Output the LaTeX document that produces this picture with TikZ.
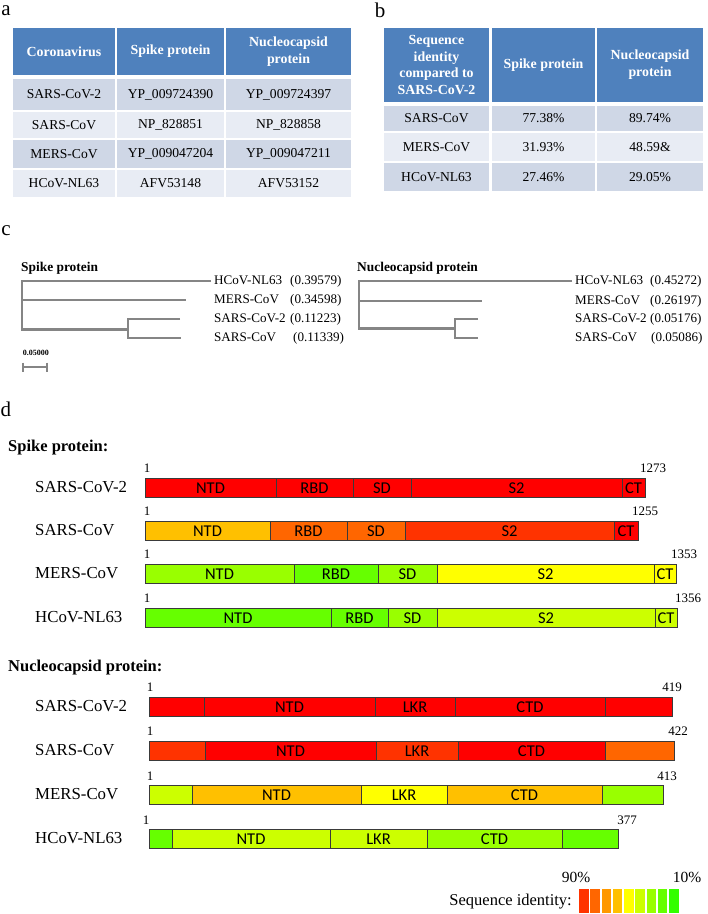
\documentclass[tikz,border=0pt]{standalone}
\usepackage{fontspec}
\setmainfont{Liberation Serif}
\newfontfamily\segfont{Carlito}
\definecolor{hdr}{HTML}{4F81BD}
\definecolor{rowA}{HTML}{CFD7E6}
\definecolor{rowB}{HTML}{E8ECF4}
\definecolor{treegray}{HTML}{858585}
\definecolor{barline}{HTML}{3A3A3A}
\definecolor{cR}{HTML}{FF0000}
\definecolor{cRO}{HTML}{FF3300}
\definecolor{cO}{HTML}{FF6600}
\definecolor{cOY}{HTML}{FF9900}
\definecolor{cAm}{HTML}{FFC000}
\definecolor{cY}{HTML}{FFFF00}
\definecolor{cYG}{HTML}{CCFF00}
\definecolor{cLG}{HTML}{99FF00}
\definecolor{cG}{HTML}{66FF00}
\definecolor{cGG}{HTML}{33FF00}
\tikzset{
  hdrtext/.style={font=\fontsize{13.9}{16.7}\selectfont\bfseries, text=white, align=center, inner sep=0pt},
  celltext/.style={font=\fontsize{13.6}{16}\selectfont, inner sep=0pt},
  panel/.style={font=\fontsize{21}{24}\selectfont, inner sep=0pt},
  treeline/.style={draw=treegray, line width=2.6pt},
  treelab/.style={font=\fontsize{13.1}{16}\selectfont, anchor=west, inner sep=0pt},
  treetitle/.style={font=\fontsize{13.4}{16}\selectfont\bfseries, anchor=west, inner sep=0pt},
  sectitle/.style={font=\fontsize{16.5}{19}\selectfont\bfseries, anchor=west, inner sep=0pt},
  barname/.style={font=\fontsize{16.8}{19}\selectfont, anchor=west, inner sep=0pt},
  numlab/.style={font=\fontsize{13}{15}\selectfont, inner sep=0pt},
  seglab/.style={font=\segfont\fontsize{16.5}{18}\selectfont, inner sep=0pt},
  segbox/.style={draw=barline, line width=0.7pt},
}
\newcommand{\tcell}[8]{%
  \fill[#5] (#1,#2) rectangle (#3,#4);
  \node[#7] (#6) at ({(#1+#3)/2},{(#2+#4)/2}) {#8};}
\newcommand{\segm}[6]{%
  \filldraw[segbox, fill=#4] (#1,#3) rectangle (#2,{#3+19});
  \node[seglab] (#6) at ({(#1+#2)/2},{#3+9.7}) {#5};}
\begin{document}
\begin{tikzpicture}[x=1pt,y=-1pt]
\useasboundingbox (0,0) rectangle (708,914);

% ---------- panel labels
\node[panel] (pa) at (6,11) {a};
\node[panel] (pb) at (380,10) {b};
\node[panel] (pc) at (6,231) {c};
\node[panel] (pd) at (6,409) {d};

% ---------- table a
\tcell{13}{28}{115}{75}{hdr}{a11}{hdrtext}{Coronavirus}
\tcell{117}{28}{224}{75}{hdr}{a12}{hdrtext}{Spike protein}
\tcell{226}{28}{351}{75}{hdr}{a13}{hdrtext}{Nucleocapsid\\protein}
\tcell{13}{79}{115}{110}{rowA}{a21}{celltext}{SARS-CoV-2}
\tcell{117}{79}{224}{110}{rowA}{a22}{celltext}{YP\_009724390}
\tcell{226}{79}{351}{110}{rowA}{a23}{celltext}{YP\_009724397}
\tcell{13}{112}{115}{138}{rowB}{a31}{celltext}{SARS-CoV}
\tcell{117}{112}{224}{138}{rowB}{a32}{celltext}{NP\_828851}
\tcell{226}{112}{351}{138}{rowB}{a33}{celltext}{NP\_828858}
\tcell{13}{140}{115}{168}{rowA}{a41}{celltext}{MERS-CoV}
\tcell{117}{140}{224}{168}{rowA}{a42}{celltext}{YP\_009047204}
\tcell{226}{140}{351}{168}{rowA}{a43}{celltext}{YP\_009047211}
\tcell{13}{170}{115}{197}{rowB}{a51}{celltext}{HCoV-NL63}
\tcell{117}{170}{224}{197}{rowB}{a52}{celltext}{AFV53148}
\tcell{226}{170}{351}{197}{rowB}{a53}{celltext}{AFV53152}

% ---------- table b
\tcell{384}{28}{489}{102}{hdr}{b11}{hdrtext}{Sequence\\identity\\compared to\\SARS-CoV-2}
\tcell{492}{28}{595}{102}{hdr}{b12}{hdrtext}{Spike protein}
\tcell{597}{28}{703}{102}{hdr}{b13}{hdrtext}{Nucleocapsid\\protein}
\tcell{384}{106}{489}{131}{rowA}{b21}{celltext}{SARS-CoV}
\tcell{492}{106}{595}{131}{rowA}{b22}{celltext}{77.38\%}
\tcell{597}{106}{703}{131}{rowA}{b23}{celltext}{89.74\%}
\tcell{384}{133}{489}{161}{rowB}{b31}{celltext}{MERS-CoV}
\tcell{492}{133}{595}{161}{rowB}{b32}{celltext}{31.93\%}
\tcell{597}{133}{703}{161}{rowB}{b33}{celltext}{48.59\&}
\tcell{384}{163}{489}{191}{rowA}{b41}{celltext}{HCoV-NL63}
\tcell{492}{163}{595}{191}{rowA}{b42}{celltext}{27.46\%}
\tcell{597}{163}{703}{191}{rowA}{b43}{celltext}{29.05\%}

% ---------- tree c, spike
\node[treetitle] (ts) at (21,268) {Spike protein};
\draw[treeline] (211,281) -- (22,281) -- (22,329.5) -- (128,329.5);
\draw[treeline] (22,300) -- (186,300);
\draw[treeline] (180,319) -- (128,319) -- (128,338) -- (181,338);
\node[treelab] (ls1) at (214,281) {\makebox[76pt][l]{HCoV-NL63}(0.39579)};
\node[treelab] (ls2) at (214,300) {\makebox[76pt][l]{MERS-CoV}(0.34598)};
\node[treelab] (ls3) at (214,319) {\makebox[76pt][l]{SARS-CoV-2}(0.11223)};
\node[treelab] (ls4) at (214,338) {\makebox[79pt][l]{SARS-CoV}(0.11339)};
\node[font=\fontsize{8}{9}\selectfont\bfseries, inner sep=0pt] (sc) at (36,353) {0.05000};
\draw[draw=treegray, line width=1.3pt] (23,367) -- (47,367);
\draw[draw=treegray, line width=1.3pt] (23,362.5) -- (23,371.5);
\draw[draw=treegray, line width=1.3pt] (47,362.5) -- (47,371.5);

% ---------- tree c, nucleocapsid
\node[treetitle] (tn) at (357,268) {Nucleocapsid protein};
\draw[treeline] (572,281) -- (359,281) -- (359,328.5) -- (455,328.5);
\draw[treeline] (359,301) -- (482,301);
\draw[treeline] (478,319) -- (455,319) -- (455,338) -- (478,338);
\node[treelab] (ln1) at (575,281) {\makebox[75pt][l]{HCoV-NL63}(0.45272)};
\node[treelab] (ln2) at (575,301) {\makebox[75pt][l]{MERS-CoV}(0.26197)};
\node[treelab] (ln3) at (575,319) {\makebox[75pt][l]{SARS-CoV-2}(0.05176)};
\node[treelab] (ln4) at (575,338) {\makebox[76pt][l]{SARS-CoV}(0.05086)};

% ---------- d: spike protein
\node[sectitle] (dsp) at (8,448) {Spike protein:};

\node[barname] (n1) at (35,487.5) {SARS-CoV-2};
\node[numlab] (s1a) at (147,468) {1};
\node[numlab] (s1b) at (653,468) {1273};
\segm{145}{276}{478}{cR}{NTD}{s1ntd}
\segm{276}{353}{478}{cR}{RBD}{s1rbd}
\segm{353}{411}{478}{cR}{SD}{s1sd}
\segm{411}{622}{478}{cR}{S2}{s1s2}
\segm{622}{645}{478}{cR}{CT}{s1ct}

\node[barname] (n2) at (35,530.5) {SARS-CoV};
\node[numlab] (s2a) at (147,511) {1};
\node[numlab] (s2b) at (645,511) {1255};
\segm{145}{270}{521}{cAm}{NTD}{s2ntd}
\segm{270}{347}{521}{cO}{RBD}{s2rbd}
\segm{347}{405}{521}{cO}{SD}{s2sd}
\segm{405}{614}{521}{cRO}{S2}{s2s2}
\segm{614}{638}{521}{cR}{CT}{s2ct}

\node[barname] (n3) at (35,573.5) {MERS-CoV};
\node[numlab] (s3a) at (147,554) {1};
\node[numlab] (s3b) at (684,554) {1353};
\segm{145}{294}{564}{cLG}{NTD}{s3ntd}
\segm{294}{378}{564}{cG}{RBD}{s3rbd}
\segm{378}{437}{564}{cLG}{SD}{s3sd}
\segm{437}{654}{564}{cY}{S2}{s3s2}
\segm{654}{676}{564}{cY}{CT}{s3ct}

\node[barname] (n4) at (35,617.5) {HCoV-NL63};
\node[numlab] (s4a) at (147,598) {1};
\node[numlab] (s4b) at (688,598) {1356};
\segm{145}{331}{608}{cG}{NTD}{s4ntd}
\segm{331}{388}{608}{cG}{RBD}{s4rbd}
\segm{388}{437}{608}{cLG}{SD}{s4sd}
\segm{437}{655}{608}{cYG}{S2}{s4s2}
\segm{655}{677}{608}{cYG}{CT}{s4ct}

% ---------- d: nucleocapsid protein
\node[sectitle] (dnp) at (8,668) {Nucleocapsid protein:};

\node[barname] (m1) at (35,706.5) {SARS-CoV-2};
\node[numlab] (p1a) at (150,687) {1};
\node[numlab] (p1b) at (672,687) {419};
\segm{149}{204}{697}{cR}{}{p1x}
\segm{204}{375}{697}{cR}{NTD}{p1ntd}
\segm{375}{455}{697}{cR}{LKR}{p1lkr}
\segm{455}{605}{697}{cR}{CTD}{p1ctd}
\segm{605}{672}{697}{cR}{}{p1y}

\node[barname] (m2) at (35,750.5) {SARS-CoV};
\node[numlab] (p2a) at (150,731) {1};
\node[numlab] (p2b) at (678,731) {422};
\segm{149}{205}{741}{cRO}{}{p2x}
\segm{205}{376}{741}{cR}{NTD}{p2ntd}
\segm{376}{458}{741}{cRO}{LKR}{p2lkr}
\segm{458}{605}{741}{cR}{CTD}{p2ctd}
\segm{605}{674}{741}{cO}{}{p2y}

\node[barname] (m3) at (35,794.5) {MERS-CoV};
\node[numlab] (p3a) at (150,776) {1};
\node[numlab] (p3b) at (667,776) {413};
\segm{149}{192}{785}{cYG}{}{p3x}
\segm{192}{361}{785}{cAm}{NTD}{p3ntd}
\segm{361}{447}{785}{cY}{LKR}{p3lkr}
\segm{447}{602}{785}{cAm}{CTD}{p3ctd}
\segm{602}{663}{785}{cLG}{}{p3y}

\node[barname] (m4) at (35,838.5) {HCoV-NL63};
\node[numlab] (p4a) at (146,820) {1};
\node[numlab] (p4b) at (627,820) {377};
\segm{149}{172}{829}{cG}{}{p4x}
\segm{172}{330}{829}{cYG}{NTD}{p4ntd}
\segm{330}{427}{829}{cYG}{LKR}{p4lkr}
\segm{427}{562}{829}{cLG}{CTD}{p4ctd}
\segm{562}{618}{829}{cG}{}{p4y}

% ---------- legend
\node[font=\fontsize{15.5}{18}\selectfont, inner sep=0pt] (l90) at (576,877) {90\%};
\node[font=\fontsize{15.5}{18}\selectfont, inner sep=0pt] (l10) at (687,877) {10\%};
\node[font=\fontsize{16.5}{19}\selectfont, anchor=east, inner sep=0pt] (lsi) at (572,902) {Sequence identity:};
\foreach \c [count=\i from 0] in {cRO,cO,cOY,cAm,cY,cYG,cLG,cG,cGG} {
  \fill[\c] ({579+11.25*\i},889) rectangle ({588.5+11.25*\i},913);
}
\end{tikzpicture}
\end{document}
